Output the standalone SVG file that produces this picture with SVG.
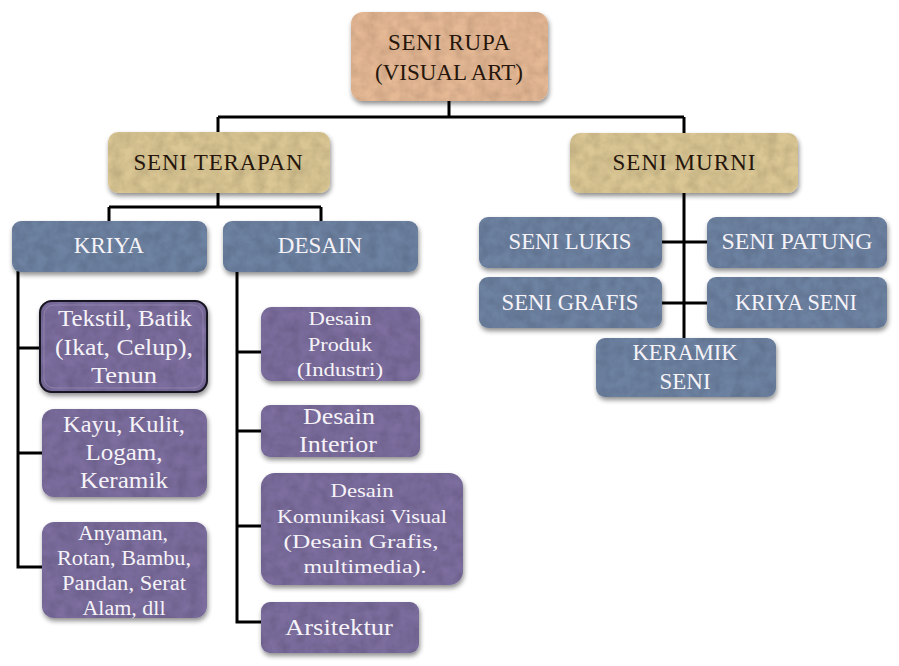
<svg xmlns="http://www.w3.org/2000/svg" width="899" height="666" viewBox="0 0 899 666">
<defs>
<filter id="f" x="-10%" y="-10%" width="125%" height="135%">
<feTurbulence type="fractalNoise" baseFrequency="0.09" numOctaves="3" seed="4" result="n"/>
<feColorMatrix in="n" type="matrix" values="0 0 0 0 0  0 0 0 0 0  0 0 0 0 0  0 0 0 0.4 -0.1" result="na"/>
<feComposite in="na" in2="SourceAlpha" operator="in" result="tex"/>
<feGaussianBlur in="SourceAlpha" stdDeviation="2.5" result="b"/>
<feOffset in="b" dx="1" dy="3" result="ob"/>
<feComponentTransfer in="ob" result="sh"><feFuncA type="linear" slope="0.45"/></feComponentTransfer>
<feMerge><feMergeNode in="sh"/><feMergeNode in="SourceGraphic"/><feMergeNode in="tex"/></feMerge>
</filter>
</defs>
<style>
.root{fill:#e6b995}
.l2{fill:#dbc794}
.blue{fill:#6e83a3}
.pur{fill:#7d6e9f}
.sel{stroke:#1f1a26;stroke-width:2}
text{font-family:"Liberation Serif","DejaVu Serif",serif;text-anchor:middle}
.dk{fill:#26160c;font-size:23px}
.wt{fill:#f6f3f8;font-size:23px}
.sm{fill:#f6f3f8;font-size:19px}
.md{fill:#f6f3f8;font-size:20px}
#connectors path{fill:none;stroke:#000;stroke-width:3}
</style>
<rect width="899" height="666" fill="#ffffff"/>
<g id="connectors">
<path d="M449 101V117M218 117H684M218 117V133M684 117V133"/>
<path d="M218 193V207M109 207H321M109 207V221M321 207V221"/>
<path d="M684 193V338M662 242H707M662 303H707"/>
<path d="M18 271V567H42M18 348H40M18 453H42"/>
<path d="M237 271V622H261M237 352H261M237 431H261M237 526H261"/>
</g>
<g id="seni-rupa"><rect class="root" filter="url(#f)" x="351" y="12" width="197" height="89" rx="12"/><text class="dk" x="449" y="50" textLength="122" lengthAdjust="spacing">SENI RUPA</text><text class="dk" x="449" y="80" textLength="148" lengthAdjust="spacingAndGlyphs">(VISUAL ART)</text></g>
<g id="seni-terapan"><rect class="l2" filter="url(#f)" x="108" y="132" width="222" height="61" rx="10"/><text class="dk" x="218" y="170" textLength="169" lengthAdjust="spacing">SENI TERAPAN</text></g>
<g id="seni-murni"><rect class="l2" filter="url(#f)" x="570" y="133" width="228" height="60" rx="10"/><text class="dk" x="684" y="170" textLength="143" lengthAdjust="spacing">SENI MURNI</text></g>
<g id="kriya"><rect class="blue" filter="url(#f)" x="12" y="221" width="195" height="51" rx="9"/><text class="wt" x="109" y="253">KRIYA</text></g>
<g id="desain"><rect class="blue" filter="url(#f)" x="223" y="221" width="195" height="51" rx="9"/><text class="wt" x="320" y="253">DESAIN</text></g>
<g id="seni-lukis"><rect class="blue" filter="url(#f)" x="479" y="217" width="183" height="51" rx="9"/><text class="wt" x="570" y="249" textLength="123" lengthAdjust="spacingAndGlyphs">SENI LUKIS</text></g>
<g id="seni-patung"><rect class="blue" filter="url(#f)" x="707" y="217" width="180" height="51" rx="9"/><text class="wt" x="797" y="249" textLength="151" lengthAdjust="spacingAndGlyphs">SENI PATUNG</text></g>
<g id="seni-grafis"><rect class="blue" filter="url(#f)" x="479" y="277" width="183" height="51" rx="9"/><text class="wt" x="570" y="310" textLength="137" lengthAdjust="spacingAndGlyphs">SENI GRAFIS</text></g>
<g id="kriya-seni"><rect class="blue" filter="url(#f)" x="707" y="277" width="180" height="51" rx="9"/><text class="wt" x="796" y="310" textLength="122" lengthAdjust="spacingAndGlyphs">KRIYA SENI</text></g>
<g id="keramik-seni"><rect class="blue" filter="url(#f)" x="596" y="338" width="180" height="59" rx="9"/><text class="wt" x="685" y="360" textLength="105" lengthAdjust="spacingAndGlyphs">KERAMIK</text><text class="wt" x="685" y="389">SENI</text></g>
<g id="tekstil"><rect class="pur sel" filter="url(#f)" x="40" y="301" width="167" height="91" rx="12"/><rect x="44" y="305" width="159" height="83" rx="10" fill="none" stroke="#9a8db6" stroke-width="1" opacity="0.7"/><text class="wt" x="125" y="326" textLength="134" lengthAdjust="spacingAndGlyphs">Tekstil, Batik</text><text class="wt" x="124" y="355" textLength="138" lengthAdjust="spacingAndGlyphs">(Ikat, Celup),</text><text class="wt" x="124" y="383" textLength="66" lengthAdjust="spacingAndGlyphs">Tenun</text></g>
<g id="kayu"><rect class="pur" filter="url(#f)" x="42" y="409" width="165" height="88" rx="12"/><text class="wt" x="124" y="432" textLength="122" lengthAdjust="spacingAndGlyphs">Kayu, Kulit,</text><text class="wt" x="124" y="460" textLength="77" lengthAdjust="spacingAndGlyphs">Logam,</text><text class="wt" x="124" y="488" textLength="88" lengthAdjust="spacingAndGlyphs">Keramik</text></g>
<g id="anyaman"><rect class="pur" filter="url(#f)" x="42" y="522" width="165" height="96" rx="12"/><text class="md" x="123" y="540" textLength="90" lengthAdjust="spacingAndGlyphs">Anyaman,</text><text class="md" x="124" y="565" textLength="134" lengthAdjust="spacingAndGlyphs">Rotan, Bambu,</text><text class="md" x="124" y="590" textLength="124" lengthAdjust="spacingAndGlyphs">Pandan, Serat</text><text class="md" x="124" y="615" textLength="83" lengthAdjust="spacingAndGlyphs">Alam, dll</text></g>
<g id="desain-produk"><rect class="pur" filter="url(#f)" x="261" y="307" width="159" height="74" rx="11"/><text class="sm" x="340" y="325" textLength="63" lengthAdjust="spacingAndGlyphs">Desain</text><text class="sm" x="340" y="351" textLength="64" lengthAdjust="spacingAndGlyphs">Produk</text><text class="sm" x="340" y="376" textLength="86" lengthAdjust="spacingAndGlyphs">(Industri)</text></g>
<g id="desain-interior"><rect class="pur" filter="url(#f)" x="261" y="405" width="159" height="52" rx="9"/><text class="wt" x="339" y="424" textLength="72" lengthAdjust="spacingAndGlyphs">Desain</text><text class="wt" x="338" y="452" textLength="78" lengthAdjust="spacingAndGlyphs">Interior</text></g>
<g id="dkv"><rect class="pur" filter="url(#f)" x="261" y="473" width="202" height="112" rx="14"/><text class="sm" x="362" y="497" textLength="63" lengthAdjust="spacingAndGlyphs">Desain</text><text class="sm" x="362" y="523" textLength="170" lengthAdjust="spacingAndGlyphs">Komunikasi Visual</text><text class="sm" x="361" y="548" textLength="155" lengthAdjust="spacingAndGlyphs">(Desain Grafis,</text><text class="sm" x="365" y="573" textLength="123" lengthAdjust="spacingAndGlyphs">multimedia).</text></g>
<g id="arsitektur"><rect class="pur" filter="url(#f)" x="261" y="602" width="158" height="51" rx="9"/><text class="wt" x="339" y="635" textLength="108" lengthAdjust="spacingAndGlyphs">Arsitektur</text></g>
</svg>
